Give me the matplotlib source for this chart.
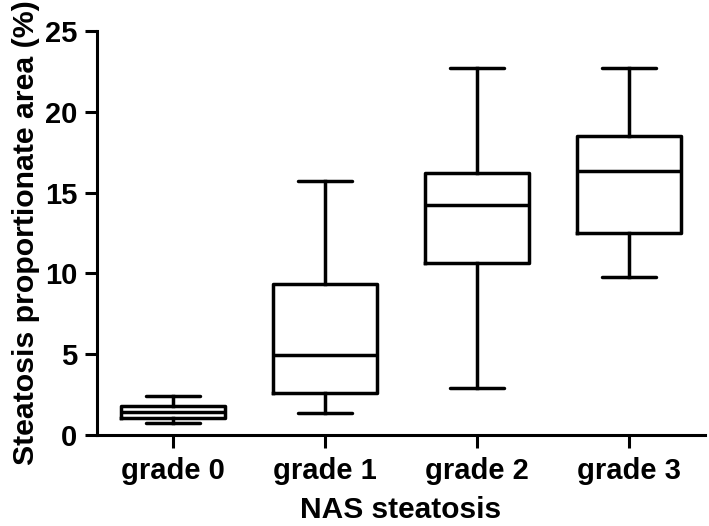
import matplotlib
matplotlib.use('Agg')
from matplotlib import pyplot as plt

grades = ['grade 0', 'grade 1', 'grade 2', 'grade 3']
whisker_low = [0.74, 1.36, 2.9, 9.78]
q1 = [1.05, 2.6, 10.64, 12.5]
median = [1.42, 4.95, 14.23, 16.34]
q3 = [1.79, 9.34, 16.2, 18.5]
whisker_high = [2.41, 15.72, 22.7, 22.7]

plt.rcParams['font.family'] = ['Liberation Sans', 'DejaVu Sans']
plt.rcParams['font.weight'] = 'bold'

stats = []
for i in range(len(grades)):
	stats.append({'whislo': whisker_low[i], 'q1': q1[i], 'med': median[i],
		'q3': q3[i], 'whishi': whisker_high[i], 'fliers': []})

fig = plt.figure(figsize=(7.09, 5.26), dpi=100)
ax = fig.add_axes([97/709, 1 - 435/526, (705-97)/709, (435-31)/526])

lw = 2.5
ax.bxp(stats, positions=range(len(grades)), widths=0.68, capwidths=0.355,
	showfliers=False,
	boxprops=dict(linewidth=lw, color='black'),
	medianprops=dict(linewidth=lw, color='black'),
	whiskerprops=dict(linewidth=lw, color='black'),
	capprops=dict(linewidth=lw, color='black', solid_capstyle='round'))

ax.set_xlim(-0.5, 3.5)
ax.set_ylim(0, 25)
ax.set_yticks([0, 5, 10, 15, 20, 25])
ax.set_xticks(range(len(grades)))
ax.set_xticklabels(grades)
ax.spines['top'].set_visible(False)
ax.spines['right'].set_visible(False)
ax.spines['left'].set_linewidth(2.2)
ax.spines['bottom'].set_linewidth(2.2)
ax.tick_params(axis='both', width=2.2, length=9, labelsize=21)
ax.tick_params(axis='y', pad=5)
ax.tick_params(axis='x', pad=7)

ax.set_xlabel('NAS steatosis', fontsize=21.5, fontweight='bold', labelpad=8)
ax.set_ylabel('Steatosis proportionate area (%)', fontsize=21.8, fontweight='bold', labelpad=4)

plt.savefig('out.png', dpi=100)
